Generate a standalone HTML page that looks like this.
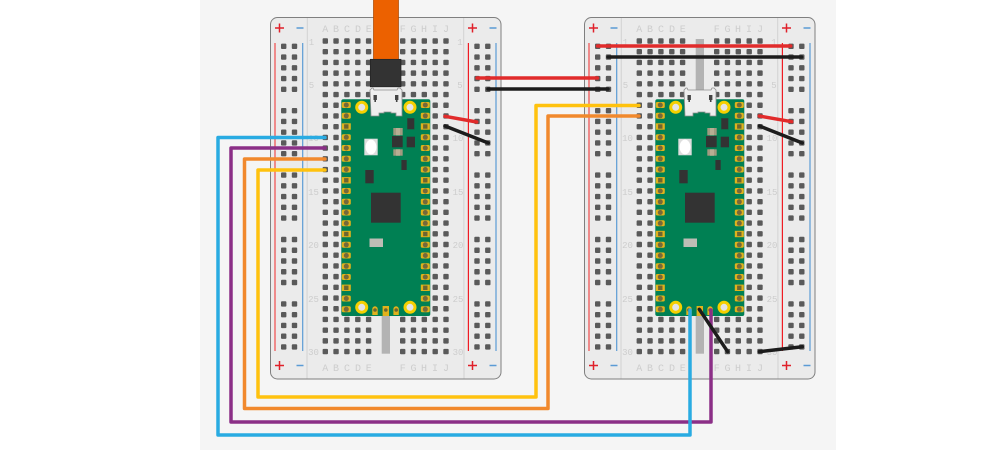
<!DOCTYPE html>
<html><head><meta charset="utf-8"><style>
html,body{margin:0;padding:0;background:#fff;width:1000px;height:450px;overflow:hidden}
svg{display:block}
text{font-family:"Liberation Mono",monospace;font-size:10px;fill:#cdcdcd;text-anchor:middle}
</style></head><body>
<svg width="1000" height="450" viewBox="0 0 1000 450" xmlns="http://www.w3.org/2000/svg">
<defs>
<rect id="o" x="-2.700" y="-2.700" width="5.400" height="5.400" rx="1" fill="#5a5a5a"/>
<g id="r5"><use href="#o" x="0"/><use href="#o" x="10.750"/><use href="#o" x="21.600"/><use href="#o" x="32.500"/><use href="#o" x="43.300"/></g>
<g id="b5"><use href="#r5" y="0"/><use href="#r5" y="10.710"/><use href="#r5" y="21.420"/><use href="#r5" y="32.130"/><use href="#r5" y="42.840"/></g>
<g id="c30"><use href="#b5" y="0"/><use href="#b5" y="53.550"/><use href="#b5" y="107.100"/><use href="#b5" y="160.650"/><use href="#b5" y="214.200"/><use href="#b5" y="267.750"/></g>
<g id="r2"><use href="#o" x="0"/><use href="#o" x="10.800"/></g>
<g id="g5"><use href="#r2" y="0"/><use href="#r2" y="10.750"/><use href="#r2" y="21.500"/><use href="#r2" y="32.250"/><use href="#r2" y="43"/></g>
<g id="rail"><use href="#g5" y="0"/><use href="#g5" y="64.400"/><use href="#g5" y="128.800"/><use href="#g5" y="193.200"/><use href="#g5" y="257.600"/></g>
<g id="board">
<rect x="270.500" y="17.500" width="230.500" height="361.500" rx="7" fill="#ebebeb" stroke="#7f7f7f" stroke-width="1"/>
<line x1="307.300" y1="18" x2="307" y2="378.500" stroke="#d2d2d2" stroke-width="1"/>
<line x1="463.700" y1="18" x2="464" y2="378.500" stroke="#d2d2d2" stroke-width="1"/>
<line x1="275" y1="43" x2="275" y2="351" stroke="#ef4b4b" stroke-width="1.200"/>
<line x1="302.700" y1="43" x2="302.700" y2="351" stroke="#5b9bd5" stroke-width="1.200"/>
<line x1="468.400" y1="43" x2="468.400" y2="351" stroke="#ef1c24" stroke-width="1.200"/>
<line x1="496" y1="43" x2="496" y2="351" stroke="#5b9bd5" stroke-width="1.200"/>
<use href="#rail" x="283.700" y="46.300"/>
<use href="#rail" x="477" y="46.300"/>
<use href="#c30" x="325.300" y="41"/>
<use href="#c30" x="402.700" y="41"/>
<path d="M275 28h9M279.500 23.500v9M468 28h9M472.500 23.500v9M275 365.500h9M279.500 361v9M468 365.500h9M472.500 361v9" stroke="#e0202a" stroke-width="1.500" fill="none"/>
<path d="M296.500 28h7M489.500 28h7M296.500 365.500h7M489.500 365.500h7" stroke="#5b9bd5" stroke-width="1.500" fill="none"/>
<text x="325.300" y="32">A</text><text x="336" y="32">B</text><text x="347" y="32">C</text><text x="358" y="32">D</text><text x="368.700" y="32">E</text><text x="402.700" y="32">F</text><text x="413.500" y="32">G</text><text x="424" y="32">H</text><text x="435" y="32">I</text><text x="446" y="32">J</text>
<text x="325.300" y="371">A</text><text x="336" y="371">B</text><text x="347" y="371">C</text><text x="358" y="371">D</text><text x="368.700" y="371">E</text><text x="402.700" y="371">F</text><text x="413.500" y="371">G</text><text x="424" y="371">H</text><text x="435" y="371">I</text><text x="446" y="371">J</text>
<text x="311.500" y="45" style="font-size:9px">1</text><text x="311.500" y="88" style="font-size:9px">5</text><text x="313.500" y="141" style="font-size:9px">10</text><text x="313.500" y="195" style="font-size:9px">15</text><text x="313.500" y="248" style="font-size:9px">20</text><text x="313.500" y="302" style="font-size:9px">25</text><text x="313.500" y="355" style="font-size:9px">30</text>
<text x="460" y="45" style="font-size:9px">1</text><text x="460" y="88" style="font-size:9px">5</text><text x="458" y="141" style="font-size:9px">10</text><text x="458" y="195" style="font-size:9px">15</text><text x="458" y="248" style="font-size:9px">20</text><text x="458" y="302" style="font-size:9px">25</text><text x="458" y="355" style="font-size:9px">30</text>
</g>
<g id="pad">
<rect x="-4.500" y="-3" width="9" height="6" rx="1.500" fill="#e0b21c"/>
<circle r="2.500" fill="#75693a"/>
</g>
<g id="sq">
<rect x="-4.500" y="-3.200" width="9" height="6.400" fill="#e0b21c"/>
<rect x="-2.200" y="-2.200" width="4.400" height="4.400" fill="#6d6530"/>
</g>
<g id="pins">
<use href="#pad" y="105"/><use href="#pad" y="115.800"/><use href="#sq" y="126.500"/><use href="#pad" y="137.300"/><use href="#pad" y="148"/><use href="#pad" y="158.800"/><use href="#pad" y="169.500"/><use href="#sq" y="180.300"/><use href="#pad" y="191"/><use href="#pad" y="201.800"/><use href="#pad" y="212.500"/><use href="#pad" y="223.300"/><use href="#sq" y="234"/><use href="#pad" y="244.800"/><use href="#pad" y="255.500"/><use href="#pad" y="266.300"/><use href="#pad" y="277"/><use href="#sq" y="287.800"/><use href="#pad" y="298.500"/><use href="#pad" y="309.300"/>
</g>
<g id="pico">
<rect x="341.300" y="99.300" width="89" height="216.700" rx="2" fill="#008053"/>
<use href="#pins" x="346.300"/><use href="#pins" x="425.300"/>
<circle cx="361.700" cy="107.300" r="5" fill="#e4e4e4" stroke="#f5d000" stroke-width="3"/>
<circle cx="410" cy="107.300" r="5" fill="#e4e4e4" stroke="#f5d000" stroke-width="3"/>
<circle cx="361.700" cy="307.300" r="5" fill="#e4e4e4" stroke="#f5d000" stroke-width="3"/>
<circle cx="410" cy="307.300" r="5" fill="#e4e4e4" stroke="#f5d000" stroke-width="3"/>
<g fill="#e0b21c"><path d="M372.300 315v-6a2.700 2.700 0 0 1 5.400 0v6z"/><rect x="382.600" y="306" width="6.400" height="10"/><path d="M393.400 315v-6a2.700 2.700 0 0 1 5.400 0v6z"/></g>
<g fill="#6d6530"><circle cx="375" cy="310" r="1.800"/><circle cx="385.800" cy="310" r="1.800"/><circle cx="396.200" cy="310" r="1.800"/></g>
<path d="M370 90l2-2h1l1 2h23l1-2h2l2 2v26h-6v-3h-5v-1h-7v1h-5v3h-8z" fill="#eeeeee" stroke="#8d8d8d" stroke-width="0.800"/>
<rect x="373.500" y="95" width="3.400" height="5" fill="#444"/><rect x="395" y="95" width="3.400" height="5" fill="#444"/>
<rect x="374.400" y="99" width="1.600" height="3" fill="#444"/><rect x="395.900" y="99" width="1.600" height="3" fill="#444"/>
<rect x="407.300" y="118.300" width="7" height="11" fill="#333" stroke="#1c5a40" stroke-width=".5"/>
<rect x="393.300" y="128" width="9.400" height="7.300" fill="#a09a80"/>
<rect x="396" y="128" width="4" height="7.300" fill="#b7ae93"/>
<rect x="392" y="136" width="10.700" height="11.300" fill="#333"/>
<rect x="406.700" y="136.700" width="8.300" height="10.600" fill="#333"/>
<rect x="393.300" y="149.300" width="9.400" height="6.400" fill="#a09a80"/>
<rect x="396" y="149.300" width="4" height="6.400" fill="#b7ae93"/>
<rect x="401.400" y="160" width="5.300" height="10" fill="#333"/>
<rect x="365.300" y="170" width="8.400" height="13.300" fill="#333"/>
<rect x="364.300" y="138.700" width="13.400" height="16.600" fill="#ddd"/>
<ellipse cx="371" cy="147" rx="5.400" ry="7.400" fill="#fff"/>
<rect x="371" y="192.700" width="29.700" height="30" fill="#333"/>
<rect x="369.500" y="238.500" width="13.500" height="8.500" fill="#bdbdb5"/>
</g>
</defs>

<rect x="200" y="0" width="636" height="450" fill="#f5f5f5"/>

<use href="#board"/>
<use href="#board" x="314"/>

<rect x="381.700" y="316" width="8.300" height="37.700" fill="#b3b3b3"/>
<rect x="695.700" y="39" width="8.300" height="60" fill="#b3b3b3"/>
<rect x="695.700" y="316" width="8.300" height="37.700" fill="#b3b3b3"/>

<use href="#pico"/>
<use href="#pico" x="314"/>

<rect x="373.500" y="-2" width="25" height="61.500" fill="#ec6100" stroke="#a94600" stroke-width="0.700"/>
<rect x="370.300" y="59.300" width="30.700" height="27.500" fill="#333" stroke="#222" stroke-width="0.700"/>

<g fill="none" stroke-width="3.500" stroke-linecap="round" stroke-linejoin="round">
<path d="M325 170H258V397H536V105.500H639" stroke="#ffc20e"/>
<path d="M325 159H244.500V408.500H548V116H639" stroke="#f1892d"/>
<path d="M325 148H231V422H711V310" stroke="#8b2f87"/>
<path d="M325 137.500H218V435H690V310" stroke="#29abe2"/>
<path d="M477 78H597.500" stroke="#e12b2b"/>
<path d="M488 89H608" stroke="#1c1c1c"/>
<path d="M445 116.300L476.700 122" stroke="#e12b2b"/>
<path d="M445 126L488.300 143" stroke="#1c1c1c"/>
<path d="M597.500 46H790.700" stroke="#e12b2b"/>
<path d="M608 57H801.700" stroke="#1c1c1c"/>
<path d="M759.300 116L791.700 121.700" stroke="#e12b2b"/>
<path d="M759.500 126L802.300 143" stroke="#1c1c1c"/>
<path d="M699.300 309.300L727.700 351.700" stroke="#1c1c1c"/>
<path d="M759.300 351.700L802.300 346.700" stroke="#1c1c1c"/>
</g>
</svg>
</body></html>
